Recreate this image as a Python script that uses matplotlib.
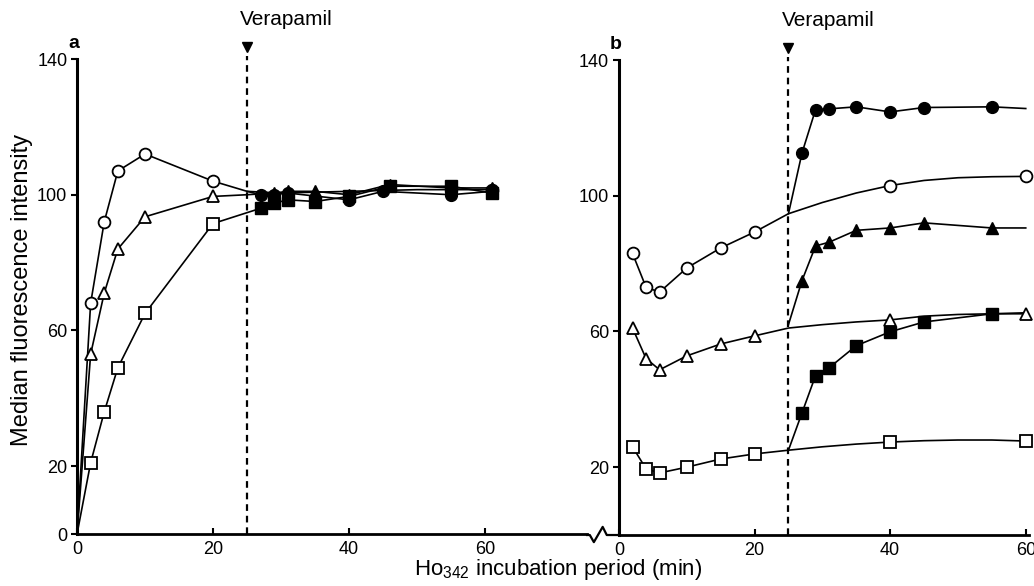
import numpy as np
import matplotlib
matplotlib.use("Agg")
import matplotlib.pyplot as plt

plt.rcParams['font.family'] = ['Liberation Sans', 'DejaVu Sans']
plt.rcParams['mathtext.fontset'] = 'custom'
plt.rcParams['mathtext.rm'] = 'Liberation Sans'
plt.rcParams['mathtext.it'] = 'Liberation Sans:italic'

"""
    Data (read off the figure)
"""
VERAPAMIL_T = 25

# panel a : without / before verapamil (open) and after (filled)
a_oc_x = [0, 2, 4, 6, 10, 20]
a_oc_y = [0, 68, 92, 107, 112, 104]
a_oc_tail_x = [20, 25, 30, 40, 50, 61]
a_oc_tail_y = [104, 101, 100.5, 101, 101.5, 101.5]
a_oc_end_x = [61]
a_oc_end_y = [101.5]

a_ot_x = [0, 2, 4, 6, 10, 20]
a_ot_y = [0, 53, 71, 84, 93.5, 99.5]
a_os_x = [0, 2, 4, 6, 10, 20]
a_os_y = [0, 21, 36, 49, 65, 91.5]

a_fc_x = [25, 27, 29, 31, 40, 45, 55, 61]
a_fc_y = [101, 100, 100, 100.5, 98.5, 101, 100, 101]
a_ft_x = [25, 29, 31, 35, 40, 46, 55, 61]
a_ft_y = [100, 100.5, 101, 101, 100, 103, 102, 102]
a_fs_x = [20, 27, 29, 31, 35, 40, 46, 55, 61]
a_fs_y = [91.5, 96, 97.5, 98.5, 98, 99.5, 102.5, 102.5, 100.5]

# panel b : open = no verapamil, filled = verapamil added at 25 min
b_oc_x = [2, 4, 6, 10, 15, 20, 40, 60]
b_oc_y = [83, 73, 71.6, 78.7, 84.6, 89.3, 103, 105.7]
b_oc_curve_x = [2, 4, 6, 10, 15, 20, 25, 30, 35, 40, 45, 50, 55, 60]
b_oc_curve_y = [83, 73, 71.6, 78.7, 84.6, 89.3, 94.7, 98, 100.8, 103, 104.5, 105.3, 105.6, 105.7]

b_ot_x = [2, 4, 6, 10, 15, 20, 40, 60]
b_ot_y = [61, 52, 48.7, 52.8, 56.3, 58.7, 63.4, 65.2]
b_ot_curve_x = [2, 4, 6, 10, 15, 20, 25, 30, 35, 40, 45, 50, 55, 60]
b_ot_curve_y = [61, 52, 48.7, 52.8, 56.3, 58.7, 61, 62, 62.8, 63.4, 64.5, 65, 65.2, 65.2]

b_os_x = [2, 4, 6, 10, 15, 20, 40, 60]
b_os_y = [26, 19.5, 18.3, 20, 22.4, 23.9, 27.4, 27.7]
b_os_curve_x = [2, 4, 6, 10, 15, 20, 25, 30, 35, 40, 45, 50, 55, 60]
b_os_curve_y = [26, 19.5, 18.3, 20, 22.4, 23.9, 25, 26, 26.8, 27.4, 27.8, 28, 28, 27.7]

b_fc_x = [27, 29, 31, 35, 40, 45, 55]
b_fc_y = [112.6, 125.4, 125.6, 126.2, 124.7, 126, 126.2]
b_fc_line_x = [25, 27, 29, 31, 35, 40, 45, 55, 60]
b_fc_line_y = [94.7, 112.6, 125.4, 125.6, 126.2, 124.7, 126, 126.2, 125.7]

b_ft_x = [27, 29, 31, 35, 40, 45, 55]
b_ft_y = [75, 85.2, 86.3, 89.8, 90.5, 92, 90.5]
b_ft_line_x = [25, 27, 29, 31, 35, 40, 45, 55, 60]
b_ft_line_y = [62, 75, 85.2, 86.3, 89.8, 90.5, 92, 90.5, 90.5]

b_fs_x = [27, 29, 31, 35, 40, 45, 55]
b_fs_y = [36, 47, 49.3, 55.8, 59.9, 62.8, 65.2]
b_fs_line_x = [25, 27, 29, 31, 35, 40, 45, 55, 60]
b_fs_line_y = [25, 36, 47, 49.3, 55.8, 59.9, 62.8, 65.2, 65.5]

a_yticks = [0, 20, 60, 100, 140]
b_yticks = [20, 60, 100, 140]
xticks = [0, 20, 40, 60]


"""
    Figure
"""
fig = plt.figure(figsize=(10.34, 5.86), dpi=100)
ax_a = fig.add_axes([0.0745, 0.0887, 0.4932, 0.8106])
ax_b = fig.add_axes([0.5986, 0.0870, 0.3967, 0.8106])

LW = 1.2
open_kw = dict(mfc='white', mec='black', mew=1.3, color='black')
fill_kw = dict(mfc='black', mec='black', mew=1.0, color='black')


def line(ax, x, y):
    ax.plot(x, y, color='black', lw=LW, zorder=2)


def marks(ax, x, y, m, ms, filled):
    kw = fill_kw if filled else open_kw
    ax.plot(x, y, ls='none', marker=m, ms=ms, zorder=3, clip_on=False, **kw)


# (1) panel a
line(ax_a, a_oc_x, a_oc_y)
line(ax_a, a_oc_tail_x, a_oc_tail_y)
line(ax_a, a_ot_x + [25], a_ot_y + [100])
line(ax_a, a_os_x, a_os_y)
line(ax_a, a_fc_x, a_fc_y)
line(ax_a, a_ft_x, a_ft_y)
line(ax_a, a_fs_x, a_fs_y)
marks(ax_a, a_oc_x[1:], a_oc_y[1:], 'o', 8.5, False)
marks(ax_a, a_oc_end_x, a_oc_end_y, 'o', 8.5, False)
marks(ax_a, a_ot_x[1:], a_ot_y[1:], '^', 8, False)
marks(ax_a, a_os_x[1:], a_os_y[1:], 's', 8.5, False)
marks(ax_a, a_fs_x[1:], a_fs_y[1:], 's', 8.5, True)
marks(ax_a, a_fc_x[1:], a_fc_y[1:], 'o', 8.5, True)
marks(ax_a, a_ft_x[1:], a_ft_y[1:], '^', 8.5, True)

# (2) panel b
line(ax_b, b_oc_curve_x, b_oc_curve_y)
line(ax_b, b_ot_curve_x, b_ot_curve_y)
line(ax_b, b_os_curve_x, b_os_curve_y)
line(ax_b, b_fc_line_x, b_fc_line_y)
line(ax_b, b_ft_line_x, b_ft_line_y)
line(ax_b, b_fs_line_x, b_fs_line_y)
marks(ax_b, b_oc_x, b_oc_y, 'o', 8.5, False)
marks(ax_b, b_ot_x, b_ot_y, '^', 8, False)
marks(ax_b, b_os_x, b_os_y, 's', 8.5, False)
marks(ax_b, b_fc_x, b_fc_y, 'o', 8.5, True)
marks(ax_b, b_ft_x, b_ft_y, '^', 8.5, True)
marks(ax_b, b_fs_x, b_fs_y, 's', 8.5, True)

# (3) axes styling
for ax, xmax, yt, lab in [(ax_a, 75, a_yticks, 'a'), (ax_b, 60.5, b_yticks, 'b')]:
    ax.set_xlim(0, xmax)
    ax.set_ylim(0, 140)
    ax.set_xticks(xticks)
    ax.set_yticks(yt)
    for s in ['top', 'right']:
        ax.spines[s].set_visible(False)
    ax.spines['left'].set_linewidth(2.2)
    ax.spines['bottom'].set_linewidth(2.0)
    ax.tick_params(axis='x', direction='in', length=4, width=1.5, labelsize=13, pad=5)
    ax.tick_params(axis='y', direction='out', length=4, width=1.5, labelsize=13, pad=3)
    ax.axvline(VERAPAMIL_T, ymin=0, ymax=141 / 140, color='black', lw=1.6,
               dashes=(3, 2.2), clip_on=False, zorder=1)
    ax.plot([VERAPAMIL_T], [143.5], marker='v', ms=7, color='black', clip_on=False)
    ax.text(24, 151.5, 'Verapamil', fontsize=15, ha='left', va='center', clip_on=False)
    ax.text(-0.5, 144.5, lab, fontsize=14, fontweight='bold', ha='center', va='center')

# axis break between the panels
ax_b.plot([-4.7, -4.3, -3.7, -2.4, -1.8, 0], [0, 0, -2.1, 2.4, 0, 0],
          color='black', lw=1.6, clip_on=False)

fig.text(0.021, 0.505, 'Median fluorescence intensity', rotation=90,
         fontsize=17, ha='center', va='center')
fig.text(0.54, 0.006, 'Ho$_{342}$ incubation period (min)', fontsize=16,
         ha='center', va='bottom')

fig.savefig('out.png', dpi=100)
